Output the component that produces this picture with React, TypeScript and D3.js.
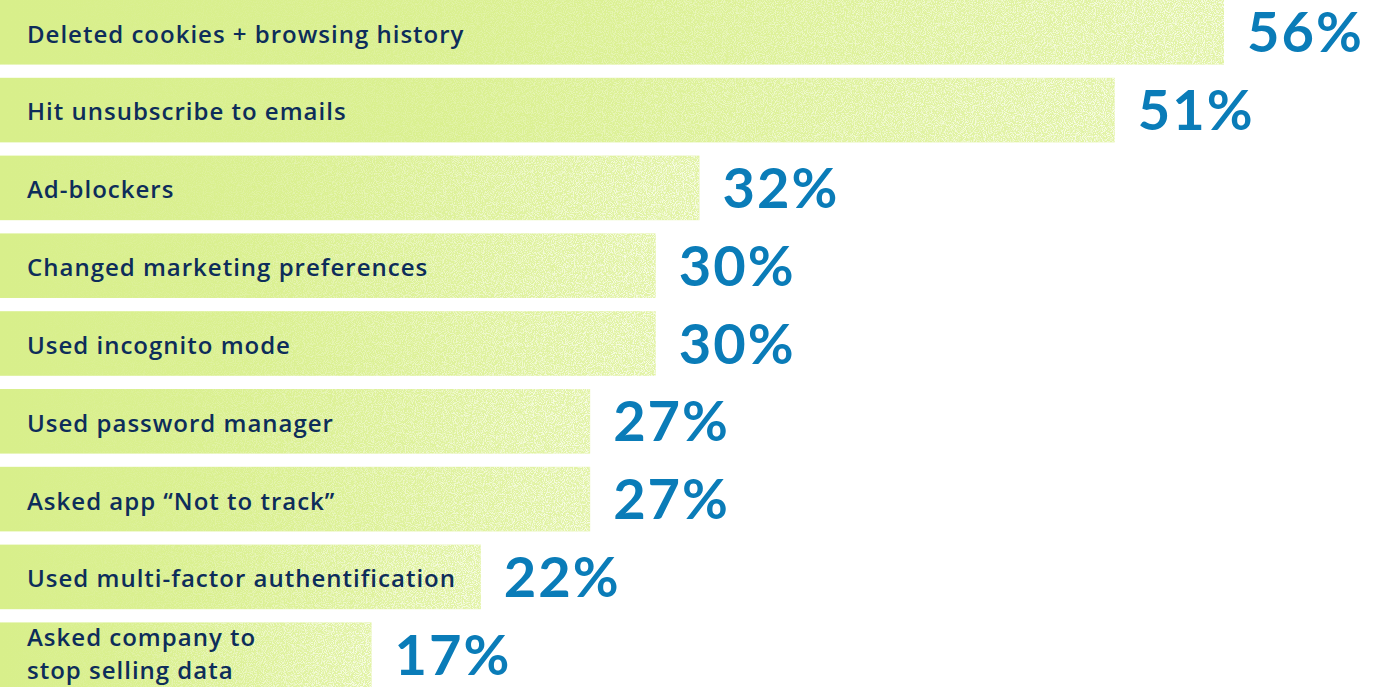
import React, { useEffect, useRef } from "react";
import * as d3 from "d3";

const categories: string[][] = [
  ["Deleted cookies + browsing history"],
  ["Hit unsubscribe to emails"],
  ["Ad-blockers"],
  ["Changed marketing preferences"],
  ["Used incognito mode"],
  ["Used password manager"],
  ["Asked app \u201CNot to track\u201D"],
  ["Used multi-factor authentification"],
  ["Asked company to", "stop selling data"],
];
const values: number[] = [56, 51, 32, 30, 30, 27, 27, 22, 17];

const W = 1376;
const H = 688;

export default function App() {
  const ref = useRef<SVGSVGElement | null>(null);

  useEffect(() => {
    const svg = d3.select(ref.current);
    svg.selectAll("*").remove();

    const ids = categories.map((_, i) => String(i));
    const x = d3.scaleLinear().domain([0, 56]).range([0, 1224]);
    const y = d3.scaleBand<string>().domain(ids).range([0, 687]).paddingInner(0.17).paddingOuter(0);

    const defs = svg.append("defs");
    const grad = defs
      .append("linearGradient")
      .attr("id", "barGrad")
      .attr("x1", "0")
      .attr("x2", "1")
      .attr("y1", "0")
      .attr("y2", "0");
    grad.append("stop").attr("offset", "0%").attr("stop-color", "#d8ef8b");
    grad.append("stop").attr("offset", "40%").attr("stop-color", "#daf090");
    grad.append("stop").attr("offset", "100%").attr("stop-color", "#e2f3a6");

    const mgrad = defs
      .append("linearGradient")
      .attr("id", "maskGrad")
      .attr("x1", "0")
      .attr("x2", "1")
      .attr("y1", "0")
      .attr("y2", "0");
    mgrad.append("stop").attr("offset", "0%").attr("stop-color", "#000");
    mgrad.append("stop").attr("offset", "30%").attr("stop-color", "#222");
    mgrad.append("stop").attr("offset", "100%").attr("stop-color", "#bbb");

    const mask = defs
      .append("mask")
      .attr("id", "fadeMask")
      .attr("maskContentUnits", "objectBoundingBox");
    mask.append("rect").attr("x", 0).attr("y", 0).attr("width", 1).attr("height", 1).attr("fill", "url(#maskGrad)");

    const filt = defs
      .append("filter")
      .attr("id", "speckle")
      .attr("x", 0)
      .attr("y", 0)
      .attr("width", 1)
      .attr("height", 1);
    filt
      .append("feTurbulence")
      .attr("type", "fractalNoise")
      .attr("baseFrequency", 1.1)
      .attr("numOctaves", 1)
      .attr("seed", 3)
      .attr("result", "n");
    filt
      .append("feColorMatrix")
      .attr("in", "n")
      .attr("type", "matrix")
      .attr("values", "0 0 0 0 1  0 0 0 0 1  0 0 0 0 1  5 0 0 0 -2.2");

    const g = svg.append("g");

    const rows = g
      .selectAll("g.row")
      .data(values.map((v, i) => ({ v, i, label: categories[i] })))
      .join("g")
      .attr("class", "row");

    rows
      .append("rect")
      .attr("x", x(0))
      .attr("y", (d) => y(String(d.i))!)
      .attr("width", (d) => x(d.v) - x(0))
      .attr("height", y.bandwidth())
      .attr("fill", "url(#barGrad)");

    rows
      .append("rect")
      .attr("x", x(0))
      .attr("y", (d) => y(String(d.i))!)
      .attr("width", (d) => x(d.v) - x(0))
      .attr("height", y.bandwidth())
      .attr("fill", "#fff")
      .attr("filter", "url(#speckle)")
      .attr("mask", "url(#fadeMask)");

    rows.each(function (d) {
      const row = d3.select(this);
      const cy = y(String(d.i))! + y.bandwidth() / 2;
      const n = d.label.length;
      const lh = 33;
      const off = n > 1 ? -1 : 2;
      const t = row
        .append("text")
        .attr("x", 27)
        .attr("font-family", "'Open Sans', Lato, sans-serif")
        .attr("font-weight", 600)
        .attr("font-size", 24)
        .attr("letter-spacing", 1)
        .attr("fill", "#0d2d5a");
      d.label.forEach((line, k) => {
        t.append("tspan")
          .attr("x", 27)
          .attr("y", cy + off + (k - (n - 1) / 2) * lh)
          .attr("dy", "0.35em")
          .text(line);
      });

      row
        .append("text")
        .attr("x", x(d.v) + 23)
        .attr("y", cy)
        .attr("dy", "0.36em")
        .attr("font-family", "Lato, 'Noto Sans', sans-serif")
        .attr("font-weight", 700)
        .attr("font-size", 56)
        .attr("letter-spacing", 2)
        .attr("fill", "#0a7cb8")
        .text(`${d.v}%`);
    });
  }, []);

  return (
    <div style={{ position: "absolute", left: 0, top: 0, width: W, height: H, background: "#fff" }}>
      <svg ref={ref} width={W} height={H} />
    </div>
  );
}
